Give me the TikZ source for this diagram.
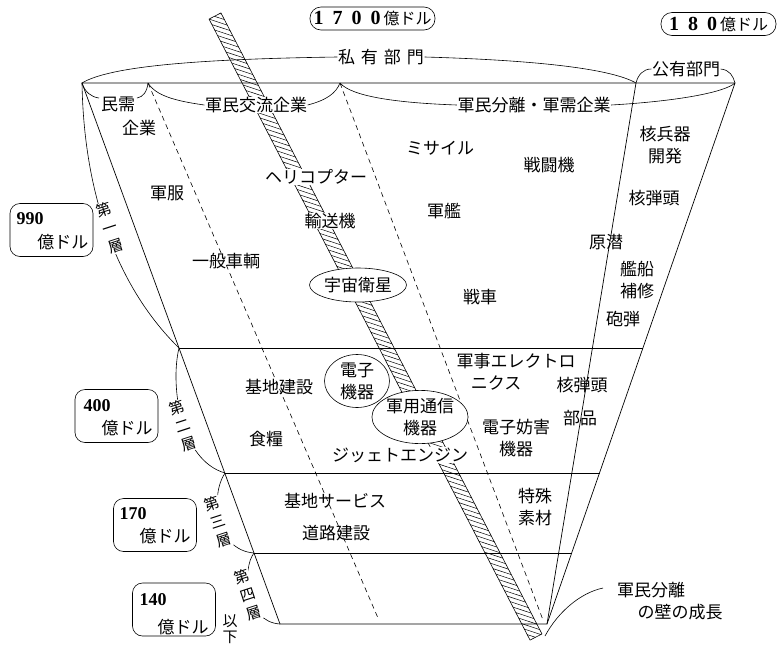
\documentclass[tikz,border=0pt]{standalone}
\usepackage{fontspec}
\newfontfamily\cjk{Noto Sans CJK JP}
\newfontfamily\numfont{Liberation Serif}
\usetikzlibrary{shapes.geometric,calc}
\begin{document}
\begin{tikzpicture}[x=1pt,y=-1pt,
  lab/.style={font=\cjk\fontsize{17}{22}\selectfont, inner sep=0.5pt, align=center},
  wlab/.style={lab, fill=white},
  laylab/.style={font=\cjk\fontsize{15}{19}\selectfont, fill=white, inner sep=0.5pt, align=center, rotate=18},
  moneybox/.style={draw, rounded corners=10pt, minimum width=83pt, minimum height=53pt, line width=0.6pt},
  num/.style={font=\numfont\bfseries\fontsize{18}{20}\selectfont, inner sep=0pt},
  yen/.style={font=\cjk\fontsize{17}{20}\selectfont, inner sep=0pt},
  pill/.style={draw, rounded corners=11pt, minimum height=23pt, inner sep=0pt, line width=0.6pt, font=\cjk\fontsize{16}{18}\selectfont},
  ell/.style={draw, ellipse, fill=white, inner sep=0pt, line width=0.6pt, font=\cjk\fontsize{17}{22}\selectfont, align=center},
  rim/.style={line width=0.7pt},
  fine/.style={line width=0.6pt},
  dashline/.style={line width=0.6pt, dash pattern=on 5pt off 4pt},
  hatch/.style={line width=0.5pt},
  wall/.style={line width=0.6pt}
]
\useasboundingbox (0,0) rectangle (777,646);

% ---- hatched wall ----
\coordinate (wTL) at (209.05,19.08);
\coordinate (wTR) at (220.95,12.92);
\coordinate (wBL) at (530.05,640.08);
\coordinate (wBR) at (541.95,633.92);
\begin{scope}
  \clip (wTL) -- (wTR) -- (wBR) -- (wBL) -- cycle;
  \foreach \i in {-4,...,116}
    \draw[hatch] ($(wTL)!\i/113!(wBL)$) ++(-2,-0.66) -- ++(22.4,7.4);
\end{scope}
\draw[wall] (wTL) -- (wTR) -- (wBR) -- (wBL) -- cycle;

% ---- main frame ----
\coordinate (TL) at (82,83);
\coordinate (TR) at (735,83);
\coordinate (BR) at (547,624);
\coordinate (BL) at (280,624);
\coordinate (PT) at (636,83);
\coordinate (D1) at (148,83);
\coordinate (D2) at (340,83);
\coordinate (D1b) at (378,618);
\coordinate (D2b) at (543,620);
\coordinate (A2) at (179,348);
\coordinate (B2) at (643,348);
\coordinate (A3) at (225,473);
\coordinate (B3) at (600,473);
\coordinate (A4) at (254,553);
\coordinate (B4) at (572,553);

\draw[rim] (TL) -- (TR) -- (BR) -- (BL) -- cycle;
\draw[rim] (PT) -- (BR);
\draw[rim] (A2) -- (B2);
\draw[rim] (A3) -- (B3);
\draw[rim] (A4) -- (B4);
\draw[dashline] (D1) -- (D1b);
\draw[dashline] (D2) -- (D2b);

% ---- top labels ----
\node[pill, minimum width=125pt] (tot) at (372.5,18.5)
  {{\numfont\bfseries\fontsize{20}{22}\selectfont 1\hspace{9pt}7\hspace{9pt}0\hspace{9pt}0}\hspace{3pt}億ドル};
\node[pill, minimum width=115pt] (pubtot) at (718.5,24)
  {{\numfont\bfseries\fontsize{20}{22}\selectfont 1\hspace{9pt}8\hspace{9pt}0}\hspace{3pt}億ドル};
\node[lab] (pri) at (381,57) {私\hspace{6pt}有\hspace{6pt}部\hspace{6pt}門};
\node[lab] (pub) at (686,69) {公有部門};

\draw[fine] (TL) .. controls (110,66) and (200,59) .. (pri.west);
\draw[fine] (pri.east) .. controls (530,60) and (610,68) .. (PT);
\draw[fine] (PT) .. controls (638,75) and (643,69) .. (pub.west);
\draw[fine] (pub.east) .. controls (730,70) and (733,76) .. (TR);

% ---- category labels ----
\node[lab] (min) at (118,104) {民需};
\node[lab] (minb) at (139,128) {企業};
\node[wlab] (kou) at (256,105) {軍民交流企業};
\node[lab] (bun) at (534,105) {軍民分離・軍需企業};
\coordinate (minL) at (99,98);
\coordinate (minR) at (137,98);

\draw[fine] (TL) .. controls (85,92) and (91,97) .. (minL);
\draw[fine] (D1) .. controls (147,92) and (143,97) .. (minR);
\draw[fine] (D1) .. controls (156,96) and (176,101) .. (kou.west);
\draw[fine] (D2) .. controls (336,93) and (327,100) .. (kou.east);
\draw[fine] (D2) .. controls (352,97) and (400,103) .. (bun.west);
\draw[fine] (bun.east) .. controls (680,101) and (725,92) .. (TR);

% ---- layer braces ----
\draw[fine] (TL) .. controls (84,200) and (120,290) .. (A2);
\draw[fine] (A2) .. controls (170,385) and (180,460) .. (A3);
\draw[fine] (A3) .. controls (210,495) and (215,550) .. (A4);
\draw[fine] (A4) .. controls (242,568) and (245,622) .. (BL);

\node[laylab] (lay1) at (110,228) {第\\一\\層};
\node[laylab] (lay2) at (183,426) {第\\二\\層};
\node[laylab] (lay3) at (218,522) {第\\三\\層};
\node[laylab] (lay4) at (248,595) {第\\四\\層};
\node[lab, font=\cjk\fontsize{15}{16}\selectfont] (ika) at (230,629) {以\\下};

% ---- money boxes ----
\node[moneybox] (m1) at (51.5,230) {};
\node[num] (m1n) at (30,219) {990};
\node[yen] (m1y) at (63,242) {億ドル};
\node[moneybox] (m2) at (116.5,416) {};
\node[num] (m2n) at (97,406) {400};
\node[yen] (m2y) at (127,428) {億ドル};
\node[moneybox] (m3) at (155,525) {};
\node[num] (m3n) at (133,514) {170};
\node[yen] (m3y) at (165,536) {億ドル};
\node[moneybox] (m4) at (174,609.5) {};
\node[num] (m4n) at (153,600) {140};
\node[yen] (m4y) at (183,627) {億ドル};

% ---- layer 1 items ----
\node[lab] (t1) at (665,145) {核兵器\\開発};
\node[lab] (t2) at (440,148) {ミサイル};
\node[lab] (t3) at (549,165) {戦闘機};
\node[lab] (t4) at (167,193) {軍服};
\node[wlab] (t5) at (316,177) {ヘリコプター};
\node[lab] (t6) at (654,198) {核弾頭};
\node[wlab] (t7) at (330,221) {輸送機};
\node[lab] (t8) at (444,211) {軍艦};
\node[lab] (t9) at (606,242) {原潜};
\node[lab] (t10) at (226,261) {一般車輌};
\node[ell, minimum width=97pt, minimum height=34pt] (t11) at (358,285) {宇宙衛星};
\node[lab] (t12) at (480,297) {戦車};
\node[lab] (t13) at (637,280) {艦船\\補修};
\node[lab] (t14) at (623,319) {砲弾};

% ---- layer 2 items ----
\node[lab] (u1) at (279,387) {基地建設};
\node[lab] (u2) at (266,439) {食糧};
\node[ell, minimum width=65pt, minimum height=53pt] (u3) at (357,381) {電子\\機器};
\node[ell, minimum width=86pt, minimum height=53pt] (u4) at (420,417) {軍用通信\\機器};
\node[wlab] (u5) at (400,455) {ジッェトエンジン};
\node[lab] (u6) at (516,361) {軍事エレクトロ};
\node[lab] (u7) at (496,383) {ニクス};
\node[lab] (u8) at (582,385) {核弾頭};
\node[lab] (u9) at (580,418) {部品};
\node[lab] (u10) at (516,438) {電子妨害\\機器};

% ---- layer 3 items ----
\node[lab] (v1) at (335,501) {基地サービス};
\node[lab] (v2) at (336,533) {道路建設};
\node[lab] (v3) at (535,507) {特殊\\素材};

% ---- wall annotation ----
\node[lab] (sep1) at (651,590) {軍民分離};
\node[lab] (sep2) at (680,612) {の壁の成長};
\coordinate (wallA) at (545,636);
\coordinate (wallB) at (603,588);
\draw[fine] (wallA) .. controls (558,612) and (580,593) .. (wallB);
\end{tikzpicture}
\end{document}
